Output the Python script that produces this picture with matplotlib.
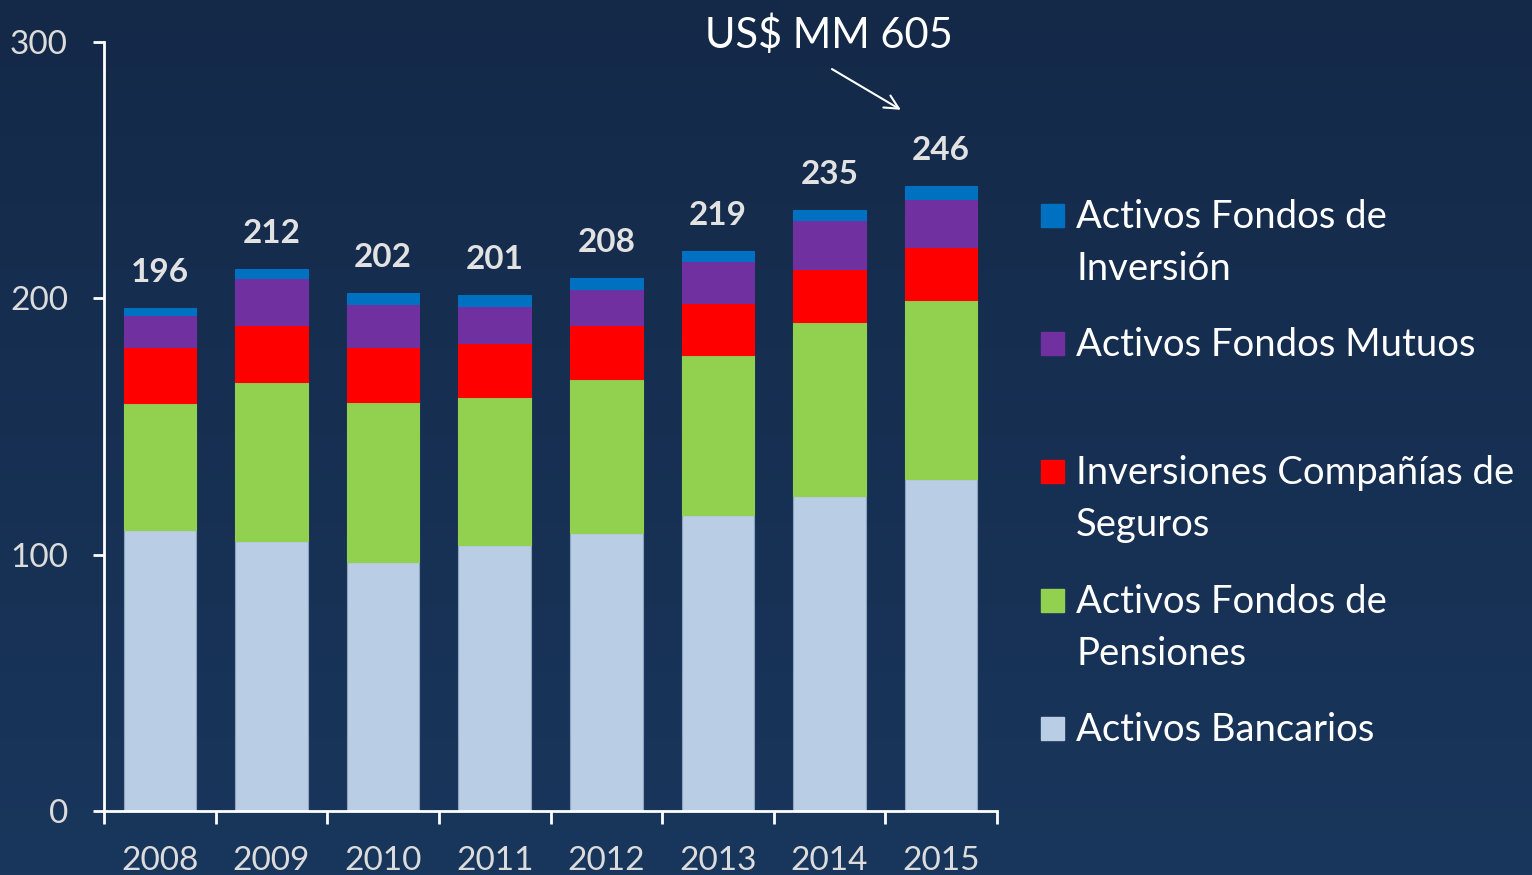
import numpy as np
import matplotlib
matplotlib.use("Agg")
import matplotlib.pyplot as plt
from matplotlib.patches import Rectangle

plt.rcParams['font.family'] = ['Lato', 'DejaVu Sans']

years = ['2008', '2009', '2010', '2011', '2012', '2013', '2014', '2015']
bancarios = [109.6, 105.3, 97.2, 103.8, 108.5, 115.5, 122.9, 129.5]
pensiones = [49.6, 62.1, 62.4, 57.7, 60.1, 62.4, 67.9, 69.9]
seguros = [21.8, 22.2, 21.4, 21.1, 21.0, 20.3, 20.7, 20.7]
mutuos = [12.5, 18.4, 16.8, 14.4, 14.1, 16.4, 19.1, 18.7]
inversion = [2.8, 3.5, 4.3, 4.3, 4.3, 3.9, 3.9, 5.1]
totals = [196, 212, 202, 201, 208, 219, 235, 246]

series = [
    ("Activos Bancarios", bancarios, "#b9cde5"),
    ("Activos Fondos de\nPensiones", pensiones, "#92d050"),
    ("Inversiones Compañías de\nSeguros", seguros, "#ff0000"),
    ("Activos Fondos Mutuos", mutuos, "#7030a0"),
    ("Activos Fondos de\nInversión", inversion, "#0070c0"),
]

W, H = 1532, 875
fig = plt.figure(figsize=(W / 100, H / 100), dpi=100)

# background gradient
bg = fig.add_axes([0, 0, 1, 1], zorder=-10)
grad = np.linspace(0, 1, 256)[:, None]
top = np.array([20, 41, 72]) / 255
bot = np.array([25, 54, 92]) / 255
img = top + (bot - top) * grad[..., None]
bg.imshow(np.repeat(img, 2, axis=1), aspect='auto', extent=[0, 1, 0, 1])
bg.axis('off')

ax = fig.add_axes([104 / W, 1 - 811 / H, (997 - 104) / W, (811 - 42) / H])
ax.patch.set_alpha(0)

x = np.arange(len(years))
bottom = np.zeros(len(years))
for name, vals, col in series:
    ax.bar(x, vals, width=0.65, bottom=bottom, color=col,
           edgecolor='#8ea3c0' if col == "#b9cde5" else col, linewidth=0.8)
    bottom += np.array(vals)

for xi, b, t in zip(x, bottom, totals):
    ax.annotate(str(t), (xi, b), xytext=(0, 15), textcoords='offset points',
                ha='center', va='bottom', fontsize=24, fontweight='bold',
                color='#e2e2e2')

ax.set_xlim(-0.5, len(years) - 0.5)
ax.set_ylim(0, 300)
ax.set_yticks([0, 100, 200, 300])
ax.set_xticks(x)
ax.set_xticklabels(years)
ax.set_xticks(np.arange(len(years) + 1) - 0.5, minor=True)
for s in ['top', 'right']:
    ax.spines[s].set_visible(False)
for s in ['left', 'bottom']:
    ax.spines[s].set_color('white')
    ax.spines[s].set_linewidth(2)
ax.tick_params(axis='x', which='major', length=0, pad=25, labelsize=24,
               labelcolor='#dcdcdc')
ax.tick_params(axis='x', which='minor', length=9, width=2, color='white')
ax.tick_params(axis='y', length=8, width=2, color='white', pad=18,
               labelsize=24, labelcolor='#dcdcdc')

ax.annotate("", xy=(6.66, 273), xytext=(6.0, 290),
            arrowprops=dict(arrowstyle='->', color='white', lw=1.5,
                            mutation_scale=25),
            annotation_clip=False)
ax.text(5.99, 303, "US$ MM 605", ha='center', va='center', fontsize=30,
        color='white', clip_on=False)

# legend drawn on the right
leg_y = [215, 343, 471, 600, 728]
for (name, vals, col), py in zip(series[::-1], leg_y):
    fig.patches.append(Rectangle((1041 / W, 1 - (py + 12) / H), 23 / W, 23 / H,
                                 transform=fig.transFigure, color=col))
    fig.text(1076 / W, 1 - (py - 16) / H, name, ha='left', va='top',
             fontsize=27.5, color='white', linespacing=1.55)

fig.savefig("out.png", dpi=100)
